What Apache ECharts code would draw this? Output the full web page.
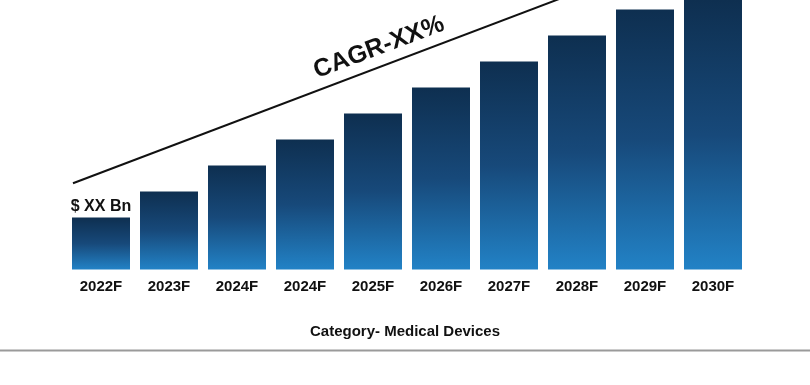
<!DOCTYPE html>
<html>
<head>
<meta charset="utf-8">
<script src="https://cdn.jsdelivr.net/npm/echarts@6/dist/echarts.min.js"></script>
<style>
html,body{margin:0;padding:0;background:#fff;}
#c{width:810px;height:385px;}
</style>
</head>
<body>
<div id="c"></div>
<script>
const categories = ['2022F','2023F','2024F','2024F','2025F','2026F','2027F','2028F','2029F','2030F'];
const values = [2, 3, 4, 5, 6, 7, 8, 9, 10, 11];
const trendPoints = [[-0.412, 3.315], [7.044, 10.708]];
const firstBarLabel = '$ XX Bn';
const cagrText = 'CAGR-XX%';
const axisTitle = 'Category- Medical Devices';

const FONT = '"Liberation Sans", Arial, sans-serif';
const chart = echarts.init(document.getElementById('c'), null, {renderer:'canvas'});

const barData = values.map((v, i) => i === 0 ? {
  value: v,
  label: {show: true, position: 'top', distance: 3, formatter: firstBarLabel,
    color: '#111', fontWeight: 'bold', fontSize: 16, fontFamily: FONT}
} : v);

chart.setOption({
  animation: false,
  backgroundColor: '#fff',
  grid: {left: 67, width: 680, top: 0, bottom: 115.5, containLabel: false},
  xAxis: [{
    type: 'category', data: categories,
    axisLine: {show: false}, axisTick: {show: false},
    axisLabel: {color: '#111', fontWeight: 'bold', fontSize: 15, fontFamily: FONT, margin: 10}
  }, {
    type: 'value', min: -0.5, max: 9.5, show: false
  }],
  yAxis: {type: 'value', min: 0, max: 10.365, show: false, splitLine: {show: false}},
  series: [{
    type: 'bar', data: barData, barWidth: 58, xAxisIndex: 0, clip: true,
    itemStyle: {
      color: new echarts.graphic.LinearGradient(0, 0, 0, 1, [
        {offset: 0, color: '#0e2f50'},
        {offset: 0.5, color: '#17497a'},
        {offset: 1, color: '#2282c6'}
      ])
    }
  }, {
    type: 'line', xAxisIndex: 1, data: trendPoints, symbol: 'none', clip: true,
    lineStyle: {color: '#111', width: 2}
  }],
  graphic: [{
    type: 'text', x: 379, y: 47.5, rotation: 20.7 * Math.PI / 180,
    style: {text: cagrText, fill: '#111', font: 'bold 25px ' + FONT, textAlign: 'center', textVerticalAlign: 'middle'}
  }, {
    type: 'text', x: 405, y: 331.5,
    style: {text: axisTitle, fill: '#111', font: 'bold 15px ' + FONT, textAlign: 'center', textVerticalAlign: 'middle'}
  }, {
    type: 'line', shape: {x1: 0, y1: 350.5, x2: 810, y2: 350.5},
    style: {stroke: '#9a9a9a', lineWidth: 2}
  }]
});
</script>
</body>
</html>
